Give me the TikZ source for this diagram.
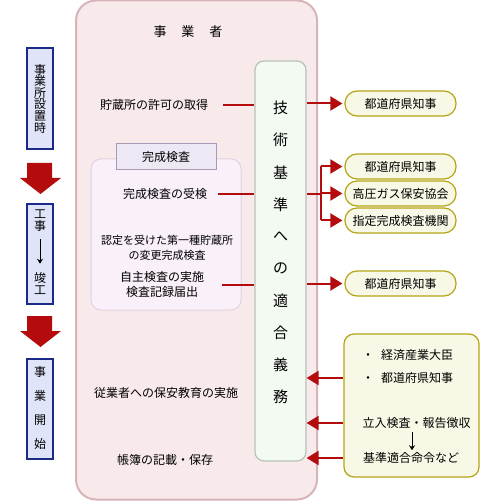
\documentclass[tikz,border=0pt]{standalone}
\usepackage{fontspec}
\setmainfont{Noto Sans CJK JP}
\usetikzlibrary{arrows.meta}
\definecolor{bizfill}{HTML}{F8EAEA}
\definecolor{bizdraw}{HTML}{D6B4BA}
\definecolor{subfill}{HTML}{F9F0F9}
\definecolor{subdraw}{HTML}{E0D2E2}
\definecolor{labfill}{HTML}{EEE8F4}
\definecolor{labdraw}{HTML}{A49CB4}
\definecolor{techfill}{HTML}{F2FAF2}
\definecolor{techdraw}{HTML}{B8C2B8}
\definecolor{rfill}{HTML}{F8F8E6}
\definecolor{rdraw}{HTML}{B4A414}
\definecolor{lfill}{HTML}{E0E4F8}
\definecolor{ldraw}{HTML}{1A2A8A}
\definecolor{myred}{HTML}{B40C0C}
\begin{document}
\begin{tikzpicture}[x=1pt,y=-1pt,
  every node/.style={inner sep=0pt, font=\fontsize{12}{15}\selectfont, align=center},
  bizbox/.style={draw=bizdraw, fill=bizfill, line width=2pt, rounded corners=20pt, minimum width=241pt, minimum height=499pt},
  subbox/.style={draw=subdraw, fill=subfill, line width=1pt, rounded corners=10pt, minimum width=150pt, minimum height=151pt},
  labbox/.style={draw=labdraw, fill=labfill, line width=1pt, minimum width=100pt, minimum height=26pt},
  techbox/.style={draw=techdraw, fill=techfill, line width=1.2pt, rounded corners=9pt, minimum width=51pt, minimum height=400pt},
  rbox/.style={draw=rdraw, fill=rfill, line width=1.2pt, rounded corners=12pt, minimum width=111pt, minimum height=25pt},
  bigbox/.style={draw=rdraw, fill=rfill, line width=1.2pt, rounded corners=10pt, minimum width=135pt, minimum height=143pt},
  lbox/.style={draw=ldraw, fill=lfill, line width=1.3pt, minimum width=26pt},
  redline/.style={draw=myred, line width=2pt},
  redarr/.style={redline, -{Triangle[length=12pt,width=14pt]}},
  thinarr/.style={draw=black, line width=1pt, -{Stealth[length=5pt,width=6pt]}},
  bigred/.style={fill=myred}
]
\useasboundingbox (0,0) rectangle (500,502);

% main frame
\node[bizbox] (biz) at (196.5,250) {};
\node[font=\fontsize{13}{15}\selectfont] (title) at (188,32) {事\hspace{15pt}業\hspace{15pt}者};

% completion inspection sub frame
\node[subbox] (sub) at (166,234.5) {};
\node[labbox] (lab) at (166,157) {完成検査};

% technical standards box
\node[techbox] (tech) at (280.5,261) {};
\foreach \c [count=\i] in {技,術,基,準,へ,の,適,合,義,務}
  \node[font=\fontsize{15}{17}\selectfont] (g\i) at (280.5,{108+32.1*(\i-1)}) {\c};

% left texts
\node (t1) at (154,105) {貯蔵所の許可の取得};
\node (t2) at (165,194) {完成検査の受検};
\node[font=\fontsize{11}{15}\selectfont] (t3) at (167,247.5) {認定を受けた第一種貯蔵所\\の変更完成検査};
\node (t4) at (162,284.5) {自主検査の実施\\検査記録届出};
\node (t5) at (166,393) {従業者への保安教育の実施};
\node (t6) at (165,460) {帳簿の記載・保存};

% right boxes
\node[rbox] (r1) at (400.5,103.5) {都道府県知事};
\node[rbox] (r2) at (400.5,166.5) {都道府県知事};
\node[rbox] (r3) at (400.5,193.5) {高圧ガス保安協会};
\node[rbox] (r4) at (400.5,220.5) {指定完成検査機関};
\node[rbox] (r5) at (400.5,283.5) {都道府県知事};

\node[bigbox] (big) at (411.5,405.5) {};
\node[anchor=west] (b1) at (362,355) {・\hspace{7pt}経済産業大臣};
\node[anchor=west] (b2) at (362,378) {・\hspace{7pt}都道府県知事};
\node (b3) at (416.5,423) {立入検査・報告徴収};
\node[anchor=west] (b4) at (363,458) {基準適合命令など};
\coordinate (ax) at (412,0);
\draw[thinarr, shorten <=3pt, shorten >=2pt] (b3.south -| ax) -- (b4.north -| ax);

% left phase boxes
\node[lbox, minimum height=101pt] (lb1) at (40,98.5) {};
\foreach \c [count=\i] in {事,業,所,設,置,時}
  \node (p\i) at (40,{69.5+11.6*(\i-1)}) {\c};
\node[lbox, minimum height=100pt] (lb2) at (40,254) {};
\node (q1) at (40,221) {工\\[-3pt]事};
\node (q2) at (40,283) {竣\\[-3pt]工};
\draw[thinarr, shorten <=7pt, shorten >=8pt] (q1.south) -- (q2.north);
\node[lbox, minimum height=100pt] (lb3) at (40,409) {};
\foreach \c [count=\i] in {事,業,開,始}
  \node (s\i) at (40,{372+24*(\i-1)}) {\c};

% big red down arrows
\fill[bigred] (27,163) -- (52,163) -- (52,178) -- (61,178) -- (40.5,194) -- (20,178) -- (27,178) -- cycle;
\fill[bigred] (27,316) -- (52,316) -- (52,331) -- (61,331) -- (40.5,347) -- (20,331) -- (27,331) -- cycle;

% connectors
\draw[redline, shorten <=15pt] (t1.east) -- (tech.west |- t1);
\draw[redarr, shorten >=2pt] (tech.east |- r1) -- (r1.west);

\draw[redline, shorten <=11pt] (t2.east) -- (tech.west |- t2);
\coordinate (fk) at (321,0);
\draw[redline] (tech.east |- t2) -- (fk |- t2);
\draw[redline] (fk |- r2) -- (fk |- r4);
\draw[redarr, shorten >=2pt] (fk |- r2) -- (r2.west);
\draw[redarr, shorten >=2pt] (fk |- r3) -- (r3.west);
\draw[redarr, shorten >=2pt] (fk |- r4) -- (r4.west);

\draw[redline, shorten <=18pt] (t4.east) -- (tech.west |- t4);
\draw[redarr, shorten >=2pt] (tech.east |- r5) -- (r5.west);

\draw[redarr] (big.west |- b2) -- (tech.east |- b2);
\draw[redarr] (big.west |- b3) -- (tech.east |- b3);
\draw[redarr] (big.west |- b4) -- (tech.east |- b4);
\end{tikzpicture}
\end{document}
